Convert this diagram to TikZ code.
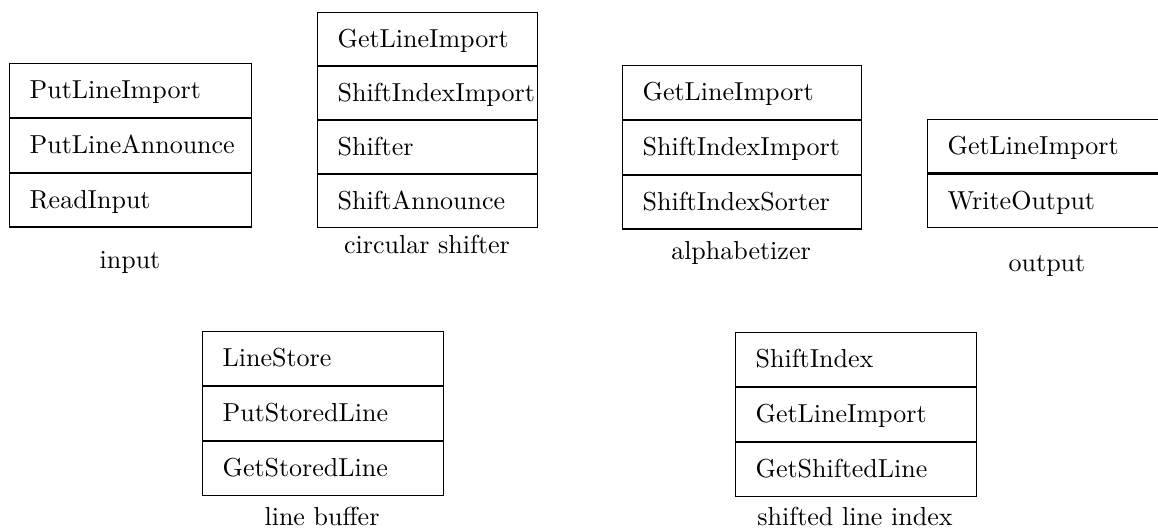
\documentclass[tikz,border=0pt]{standalone}
\usepackage{fontspec}
\setmainfont{lmroman10-regular.otf}
\begin{document}
\begin{tikzpicture}[x=1pt,y=-1pt,
  every node/.style={font=\fontsize{26}{31}\selectfont},
  row/.style={draw, line width=1.2pt, anchor=north west, inner xsep=20pt, inner ysep=0pt,
    minimum height=#1, text height=18pt, text depth=1pt, align=left},
  row/.default=53.7pt,
  caption/.style={anchor=center, inner sep=0pt, text height=18pt, text depth=0pt}]
\clip (0,0) rectangle (1158,529);
% input
\node[row, text width=202pt] (inA) at (9,63) {PutLineImport};
\node[row, text width=202pt] (inB) at (inA.south west) {PutLineAnnounce};
\node[row, text width=202pt] (inC) at (inB.south west) {ReadInput};
\node[caption] (inL) at (130,260) {input};
% circular shifter
\node[row=52.8pt, text width=180pt] (csA) at (317,12) {GetLineImport};
\node[row=52.8pt, text width=180pt] (csB) at (csA.south west) {ShiftIndexImport};
\node[row=52.8pt, text width=180pt] (csC) at (csB.south west) {Shifter};
\node[row=52.8pt, text width=180pt] (csD) at (csC.south west) {ShiftAnnounce};
\node[caption] (csL) at (427,245) {circular shifter};
% alphabetizer
\node[row, text width=199pt] (alA) at (622,65) {GetLineImport};
\node[row, text width=199pt] (alB) at (alA.south west) {ShiftIndexImport};
\node[row, text width=199pt] (alC) at (alB.south west) {ShiftIndexSorter};
\node[caption] (alL) at (741,250) {alphabetizer};
% output
\node[row=53.5pt, text width=210pt] (ouA) at (927,119) {GetLineImport};
\node[row=53.5pt, text width=210pt] (ouB) at (ouA.south west) {WriteOutput};
\node[caption] (ouL) at (1047,262) {output};
% line buffer
\node[row, text width=201pt] (lbA) at (202,331) {LineStore};
\node[row, text width=201pt] (lbB) at (lbA.south west) {PutStoredLine};
\node[row, text width=201pt] (lbC) at (lbB.south west) {GetStoredLine};
\node[caption] (lbL) at (322,516) {line buffer};
% shifted line index
\node[row, text width=201pt] (siA) at (735,332) {ShiftIndex};
\node[row, text width=201pt] (siB) at (siA.south west) {GetLineImport};
\node[row, text width=201pt] (siC) at (siB.south west) {GetShiftedLine};
\node[caption] (siL) at (855,516) {shifted line index};
\end{tikzpicture}
\end{document}
